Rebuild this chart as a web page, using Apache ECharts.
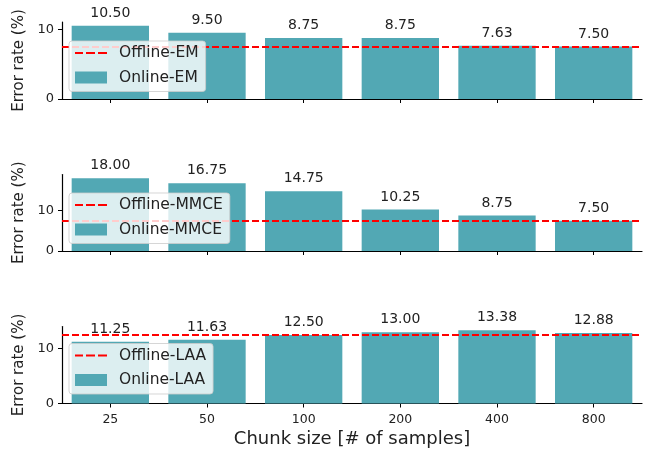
<!DOCTYPE html>
<html>
<head>
<meta charset="utf-8">
<script src="https://cdn.jsdelivr.net/npm/echarts@6/dist/echarts.min.js"></script>
<style>html,body{margin:0;padding:0;background:#fff}#c{width:645px;height:450px}</style>
</head>
<body>
<div id="c"></div>
<script>
var categories = ['25', '50', '100', '200', '400', '800'];
var onlineEM = [10.50, 9.50, 8.75, 8.75, 7.63, 7.50];
var onlineMMCE = [18.00, 16.75, 14.75, 10.25, 8.75, 7.50];
var onlineLAA = [11.25, 11.63, 12.50, 13.00, 13.38, 12.88];
var offlineEM = 7.50;
var offlineMMCE = 7.50;
var offlineLAA = 12.50;
var yTicks = [0, 10];
var panelNames = [['Offline-EM', 'Online-EM'], ['Offline-MMCE', 'Online-MMCE'], ['Offline-LAA', 'Online-LAA']];

var FONT = 'DejaVu Sans';
var BAR = '#52a8b4';
var DASH_ICON = 'path://M0,0h0.05v0.05h-0.05z M0,5h8v2h-8z M11,5h9v2h-9z M23,5h9v2h-9z M31.95,11.95h0.05v0.05h-0.05z';
var panels = [
  {online: onlineEM, offline: offlineEM, top: 22, height: 77, legendTop: 41},
  {online: onlineMMCE, offline: offlineMMCE, top: 174.5, height: 76.5, legendTop: 193},
  {online: onlineLAA, offline: offlineLAA, top: 326.5, height: 77, legendTop: 343.5}
];

var grid = [], xAxis = [], yAxis = [], series = [], legend = [];
panels.forEach(function (p, i) {
  var mx = Math.max.apply(null, p.online.concat([p.offline])) * 1.05;
  grid.push({left: 62, right: 3, top: p.top, height: p.height});
  xAxis.push({
    type: 'category', gridIndex: i, data: categories,
    axisLine: {lineStyle: {color: '#000', width: 1.2}},
    axisTick: {show: true, alignWithLabel: true, length: 4, lineStyle: {color: '#000'}},
    axisLabel: {show: i === 2, color: '#222', fontFamily: FONT, fontSize: 12.5, margin: 10},
    name: i === 2 ? 'Chunk size [# of samples]' : '',
    nameLocation: 'middle', nameGap: 27,
    nameTextStyle: {fontFamily: FONT, fontSize: 18, color: '#222'}
  });
  yAxis.push({
    type: 'value', gridIndex: i, min: 0, max: mx,
    axisLine: {show: true, lineStyle: {color: '#000', width: 1.2}},
    axisTick: {show: true, length: 4, customValues: yTicks, lineStyle: {color: '#000'}},
    axisLabel: {customValues: yTicks, color: '#222', fontFamily: FONT, fontSize: 13, margin: 8},
    splitLine: {show: false},
    name: 'Error rate (%)', nameLocation: 'middle', nameGap: 34,
    nameTextStyle: {fontFamily: FONT, fontSize: 15, color: '#222'}
  });
  series.push({
    name: panelNames[i][1], type: 'bar', xAxisIndex: i, yAxisIndex: i,
    data: p.online, barWidth: '80%',
    itemStyle: {color: BAR},
    label: {show: true, position: 'top', distance: 5.5, color: '#222', fontFamily: FONT, fontSize: 14,
      formatter: function (d) { return d.value.toFixed(2); }},
    z: 2
  });
  series.push({
    name: panelNames[i][0], type: 'line', xAxisIndex: i, yAxisIndex: i,
    data: [], symbol: 'none',
    lineStyle: {color: '#ff0000', type: [7, 3], width: 2},
    itemStyle: {color: '#ff0000'},
    markLine: {
      silent: true, symbol: ['none', 'none'],
      label: {show: false},
      lineStyle: {color: '#ff0000', type: [7, 3], width: 2},
      data: [{yAxis: p.offline}]
    },
    z: 3
  });
  legend.push({
    orient: 'vertical', left: 69, top: p.legendTop,
    padding: [3, 7, 5, 6], itemGap: 6.5, itemWidth: 32, itemHeight: 12,
    backgroundColor: 'rgba(255,255,255,0.8)', borderColor: 'rgba(204,204,204,0.8)',
    borderWidth: 1, borderRadius: 3,
    textStyle: {fontFamily: FONT, fontSize: 15.5, color: '#222', padding: [0, 0, 0, 7], lineHeight: 18},
    data: [
      {name: panelNames[i][0], icon: DASH_ICON, itemStyle: {color: '#ff0000', borderWidth: 0}},
      {name: panelNames[i][1], icon: 'rect'}
    ],
    selectedMode: false,
    z: 10
  });
});

var chart = echarts.init(document.getElementById('c'), null, {renderer: 'canvas'});
chart.setOption({
  animation: false,
  textStyle: {fontFamily: FONT},
  grid: grid, xAxis: xAxis, yAxis: yAxis, series: series, legend: legend
});
</script>
</body>
</html>
